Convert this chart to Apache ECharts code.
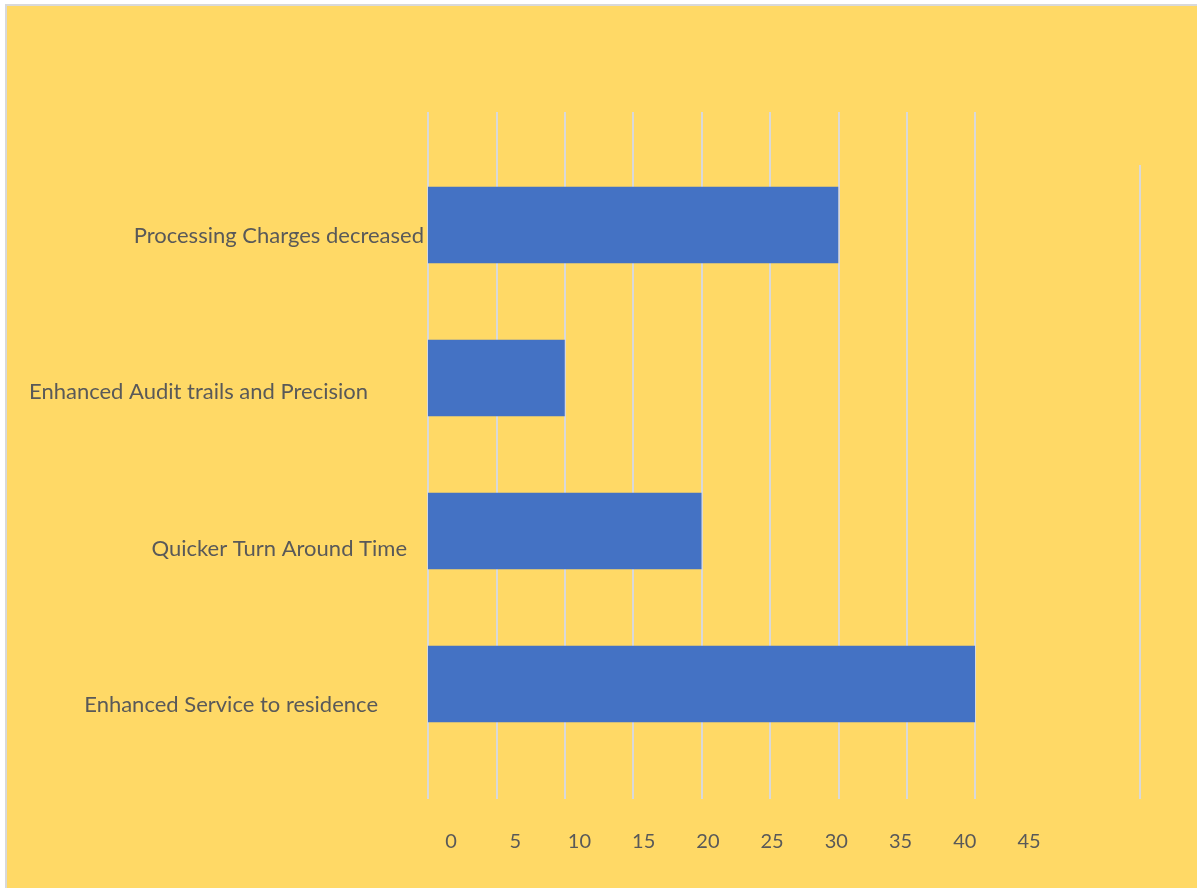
<!DOCTYPE html>
<html>
<head>
<meta charset="utf-8">
<script src="https://cdn.jsdelivr.net/npm/echarts@6/dist/echarts.min.js"></script>
<style>
  html, body { margin: 0; padding: 0; background: #ffffff; }
  #frame {
    position: absolute; left: 5px; top: 4px; right: 0; bottom: 0;
    border-left: 2px solid #D9D9D9; border-top: 2px solid #D9D9D9;
    background: #FFD966;
  }
  #chart { position: absolute; left: 0; top: 0; width: 1197px; height: 888px; }
</style>
</head>
<body>
<div id="frame"></div>
<div id="chart"></div>
<script>
// Benefits reported, listed top to bottom
const categories = [
  'Processing Charges decreased',
  'Enhanced Audit trails and Precision',
  'Quicker Turn Around Time',
  'Enhanced Service to residence'
];
const values = [30, 10, 20, 40];

// Scale shown beneath the chart
const tickValues = [0, 5, 10, 15, 20, 25, 30, 35, 40, 45];

// Per-label nudges for the category names: [top padding, right padding]
const labelNudge = [[22, 0], [28, 56], [36, 17], [42, 46]];

const FONT = 'Lato, "Open Sans", sans-serif';
const TEXT = '#595959';
const GRIDLINE = '#D9D9D9';

const rich = {};
labelNudge.forEach((n, i) => {
  rich['c' + i] = {
    fontFamily: FONT, fontSize: 22, color: TEXT,
    padding: [n[0], n[1], 0, 0]
  };
});

const chart = echarts.init(document.getElementById('chart'), null, { renderer: 'canvas' });

chart.setOption({
  backgroundColor: 'transparent',
  animation: false,
  grid: [
    // vertical gridlines
    { left: 428, width: 547, top: 112, height: 687 },
    // bars
    { left: 428, width: 547, top: 148.5, height: 612 },
    // value scale underneath
    { left: 451, width: 578, top: 112, height: 687 }
  ],
  xAxis: [
    {
      gridIndex: 0, type: 'value', min: 0, max: 40, interval: 5,
      axisLine: { show: false }, axisTick: { show: false }, axisLabel: { show: false },
      splitLine: { show: true, lineStyle: { color: GRIDLINE, width: 2 } }
    },
    {
      gridIndex: 1, type: 'value', min: 0, max: 40, interval: 5,
      axisLine: { show: false }, axisTick: { show: false }, axisLabel: { show: false },
      splitLine: { show: false }
    },
    {
      gridIndex: 2, type: 'value',
      min: tickValues[0], max: tickValues[tickValues.length - 1],
      interval: tickValues[1] - tickValues[0],
      axisLine: { show: false }, axisTick: { show: false },
      splitLine: { show: false },
      axisLabel: { margin: 33, fontFamily: FONT, fontSize: 20, color: TEXT }
    }
  ],
  yAxis: [
    { gridIndex: 0, type: 'value', show: false },
    {
      gridIndex: 1, type: 'category', data: categories, inverse: true,
      axisLine: { show: false }, axisTick: { show: false },
      splitLine: { show: false },
      axisLabel: {
        margin: 4,
        formatter: (v, i) => '{c' + i + '|' + v + '}',
        rich: rich
      }
    },
    { gridIndex: 2, type: 'value', show: false }
  ],
  series: [
    {
      type: 'bar', xAxisIndex: 1, yAxisIndex: 1,
      data: values, barCategoryGap: '50%',
      itemStyle: { color: '#4472C4' }
    }
  ],
  graphic: [
    {
      type: 'line', silent: true,
      shape: { x1: 1140, y1: 165, x2: 1140, y2: 799 },
      style: { stroke: GRIDLINE, lineWidth: 2 }
    }
  ]
});
</script>
</body>
</html>
